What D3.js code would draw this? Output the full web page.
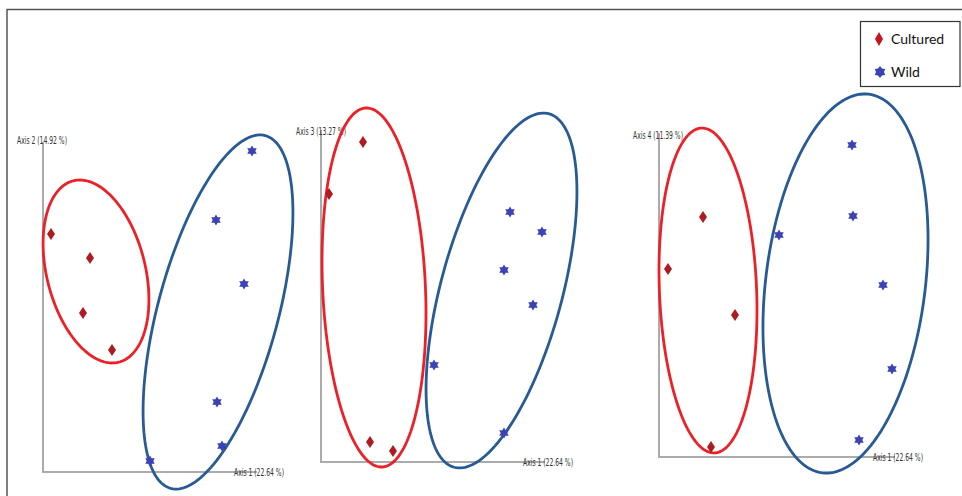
<!DOCTYPE html>
<html>
<head>
<meta charset="utf-8">
<script src="https://cdn.jsdelivr.net/npm/d3@7"></script>
<style>
  html, body { margin: 0; padding: 0; background: #fff; }
  svg { display: block; }
  .axis-label { font-family: "Liberation Sans Narrow", "Arial Narrow", "DejaVu Sans Condensed", sans-serif; font-size: 10.5px; fill: #333; }
  .legend-label { font-family: Lato, "Open Sans", sans-serif; font-size: 14px; fill: #111; }
</style>
</head>
<body>
<svg id="chart" width="962" height="496"></svg>
<script>
// PCoA scores (same units on both axes), one block per axis pair
const axis1Label = "Axis 1 (22.64 %)";
const yAxisLabels = ["Axis 2 (14.92 %)", "Axis 3 (13.27 %)", "Axis 4 (11.39 %)"];

const cultured12 = [[8, 238], [47, 214], [40, 159], [69, 122]];
const wild12 = [[209, 321], [173, 252], [201, 188], [174, 70], [179, 26], [107, 11]];
const cultured13 = [[42, 320], [8, 268], [49, 20], [72, 11]];
const wild13 = [[189, 250], [221, 230], [183, 192], [212, 157], [113, 97], [183, 29]];
const cultured14 = [[44, 240], [9, 188], [76, 142], [52, 10]];
const wild14 = [[193, 312], [194, 241], [120, 222], [224, 172], [233, 88], [200, 17]];

// group ellipses: [centre x, centre y, semi-major, semi-minor, angle in degrees]
const culturedEllipses = [[53, 200.5, 93.5, 49.3, -76], [53, 174.5, 179.7, 51.4, -87.4], [49, 166.5, 162.6, 48.6, -87.7]];
const wildEllipses = [[175, 160, 182.6, 60.2, 75], [180.5, 171.5, 183, 60.8, 75], [186.5, 173.5, 190.7, 79.8, 83]];

const groups = ["Cultured", "Wild"];

// panel placement on the page
const panels = [
  { ox: 43, oy: 472, xLen: 214, yLen: 330, yLab: [17, 140], xLab: [234, 472] },
  { ox: 321, oy: 462, xLen: 224, yLen: 332, yLab: [296, 131], xLab: [523, 462] },
  { ox: 659, oy: 457, xLen: 236, yLen: 324, yLab: [633, 135], xLab: [873, 457] }
];
const panelData = [
  { c: cultured12, w: wild12 },
  { c: cultured13, w: wild13 },
  { c: cultured14, w: wild14 }
];

const colors = {
  culturedMark: "#ae1c22", wildMark: "#3b42b4",
  culturedRing: "#ec2027", wildRing: "#285a96",
  axis: "#ababab", frame: "#555"
};

const svg = d3.select("#chart");

// outer frame (top and left edges)
svg.append("path")
  .attr("d", "M7,496 V9.5 H962")
  .attr("fill", "none").attr("stroke", colors.frame).attr("stroke-width", 1.5);

const diamondPath = (w, h) => `M0,${-h / 2} L${w / 2},0 L0,${h / 2} L${-w / 2},0 Z`;
function starPath(ro, ri) {
  const pts = [];
  for (let i = 0; i < 12; i++) {
    const r = i % 2 === 0 ? ro : ri;
    const a = -Math.PI / 2 + i * Math.PI / 6;
    pts.push([r * Math.cos(a), r * Math.sin(a)]);
  }
  return "M" + pts.map(p => p.map(v => v.toFixed(2)).join(",")).join("L") + "Z";
}

panels.forEach((p, i) => {
  const x = d3.scaleLinear().domain([0, p.xLen]).range([p.ox, p.ox + p.xLen]);
  const y = d3.scaleLinear().domain([0, p.yLen]).range([p.oy, p.oy - p.yLen]);
  const g = svg.append("g");

  // axes lines
  g.append("path")
    .attr("d", `M${x(0)},${y(p.yLen)} V${y(0)} H${x(p.xLen)}`)
    .attr("fill", "none").attr("stroke", colors.axis).attr("stroke-width", 2);

  g.append("text").attr("class", "axis-label")
    .attr("x", p.yLab[0]).attr("y", p.yLab[1]).attr("dy", "0.35em")
    .attr("textLength", 50).attr("lengthAdjust", "spacingAndGlyphs")
    .text(yAxisLabels[i]);
  g.append("text").attr("class", "axis-label")
    .attr("x", p.xLab[0]).attr("y", p.xLab[1]).attr("dy", "0.35em")
    .attr("textLength", 50).attr("lengthAdjust", "spacingAndGlyphs")
    .text(axis1Label);

  // ellipses traced through the scales
  const ellipseLine = d3.line().x(d => x(d[0])).y(d => y(d[1])).curve(d3.curveLinearClosed);
  function ellipsePoints(e) {
    const [cx, cy, a, b, deg] = e;
    const t = deg * Math.PI / 180;
    return d3.range(0, 360, 2).map(k => {
      const u = k * Math.PI / 180;
      const ex = a * Math.cos(u), ey = b * Math.sin(u);
      return [cx + ex * Math.cos(t) - ey * Math.sin(t), cy + ex * Math.sin(t) + ey * Math.cos(t)];
    });
  }
  g.append("path").attr("d", ellipseLine(ellipsePoints(culturedEllipses[i])))
    .attr("fill", "none").attr("stroke", colors.culturedRing).attr("stroke-width", 2.8);
  g.append("path").attr("d", ellipseLine(ellipsePoints(wildEllipses[i])))
    .attr("fill", "none").attr("stroke", colors.wildRing).attr("stroke-width", 2.8);

  // points
  g.selectAll(".c").data(panelData[i].c).join("path")
    .attr("transform", d => `translate(${x(d[0])},${y(d[1])})`)
    .attr("d", diamondPath(8, 12)).attr("fill", colors.culturedMark);
  g.selectAll(".w").data(panelData[i].w).join("path")
    .attr("transform", d => `translate(${x(d[0])},${y(d[1])})`)
    .attr("d", starPath(5.5, 3.3)).attr("fill", colors.wildMark);
});

// legend
const lg = svg.append("g");
lg.append("rect").attr("x", 860.5).attr("y", 21.5).attr("width", 99.5).attr("height", 65)
  .attr("fill", "#fff").attr("stroke", "#333").attr("stroke-width", 1.2);
const legendRows = d3.scalePoint().domain(groups).range([39, 72]);
lg.append("path").attr("transform", `translate(879,${legendRows("Cultured")})`)
  .attr("d", diamondPath(8, 14)).attr("fill", "#c4161c");
lg.append("path").attr("transform", `translate(880,${legendRows("Wild")})`)
  .attr("d", starPath(6, 4)).attr("fill", colors.wildMark);
lg.selectAll("text.legend-label").data(groups).join("text")
  .attr("class", "legend-label")
  .attr("x", 891).attr("y", d => legendRows(d)).attr("dy", "0.35em")
  .text(d => d);
</script>
</body>
</html>
